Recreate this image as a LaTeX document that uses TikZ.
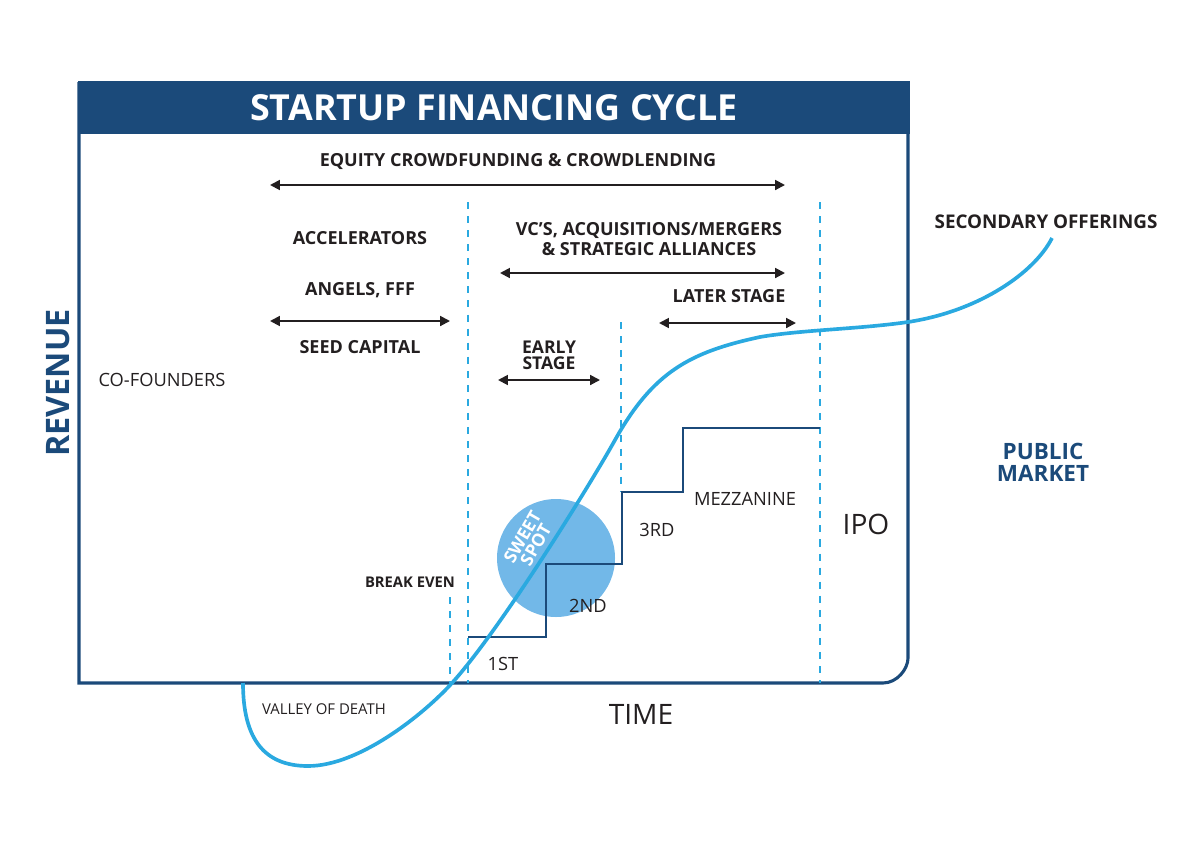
\documentclass[tikz,border=0pt]{standalone}
\usepackage{fontspec}
\setmainfont{Open Sans}
\usetikzlibrary{arrows.meta}
\definecolor{navy}{HTML}{1B4A7A}
\definecolor{skyline}{HTML}{2AA9E0}
\definecolor{spot}{HTML}{72B8E8}
\definecolor{ink}{HTML}{231F20}
\begin{document}
\begin{tikzpicture}[x=0.025cm, y=-0.025cm,
  every node/.style={text=ink, inner sep=0pt, align=center},
  heavy/.style={font=\fontsize{12.8}{14.2}\selectfont\bfseries},
  plain/.style={font=\fontsize{13}{15}\selectfont},
  span/.style={{Triangle[length=7pt,width=7pt]}-{Triangle[length=7pt,width=7pt]}, line width=1.4pt, draw=ink},
  guide/.style={draw=skyline, line width=1.4pt, dash pattern=on 5pt off 5pt}]
  \useasboundingbox (0,0) rectangle (1200,848);

  % frame and title
  \draw[navy, line width=2.2pt] (79,82) -- (79,683) -- (883,683)
    .. controls (897,683) and (908,669) .. (908,658) -- (908,82);
  \fill[navy] (77.5,81) rectangle (909.5,134);
  \node[text=white, font=\fontsize{25.5}{30}\selectfont\bfseries] (title) at (494,108) {STARTUP FINANCING CYCLE};

  % axes labels
  \node[text=navy, font=\fontsize{23}{26}\selectfont\bfseries, rotate=90] (revenue) at (58,383) {REVENUE};
  \node[font=\fontsize{20}{22}\selectfont] (time) at (641,714) {TIME};
  \node[text=navy, font=\fontsize{16}{15.6}\selectfont\bfseries] (public) at (1043,462) {PUBLIC\\MARKET};

  % guide lines
  \foreach \x/\ya/\yb in {468/202/683, 820/202/683, 621/322/492, 450/597/683}
    \draw[guide] (\x,\ya) -- (\x,\yb);

  % spans
  \foreach \xa/\xb/\y in {270/785/185, 270/450/321, 500/785/273, 659/796/323, 498/600/380}
    \draw[span] (\xa,\y) -- (\xb,\y);

  \node[heavy] (crowd) at (518,162) {EQUITY CROWDFUNDING \& CROWDLENDING};
  \node[heavy] (accel) at (360,238) {ACCELERATORS};
  \node[heavy] (angels) at (360,290) {ANGELS, FFF};
  \node[heavy] (seed) at (360,347) {SEED CAPITAL};
  \node[heavy] (vcs) at (649,239) {VC’S, ACQUISITIONS/MERGERS\\\& STRATEGIC ALLIANCES};
  \node[heavy] (later) at (729,296) {LATER STAGE};
  \node[heavy, font=\fontsize{12.5}{11.5}\selectfont\bfseries] (early) at (549,355) {EARLY\\STAGE};
  \node[plain] (cofound) at (162,380) {CO-FOUNDERS};
  \node[heavy, font=\fontsize{10.5}{12}\selectfont\bfseries] (breakeven) at (410,582) {BREAK EVEN};
  \node[heavy, font=\fontsize{13.4}{15}\selectfont\bfseries] (secondary) at (1046,222) {SECONDARY OFFERINGS};

  % sweet spot and rounds
  \fill[spot] (556,558) circle (59);
  \draw[navy, line width=1.4pt] (468,637) -- (546,637) -- (546,564) -- (622,564)
    -- (622,492) -- (683,492) -- (683,428) -- (820,428);
  \node[text=white, font=\fontsize{12.5}{11}\selectfont\bfseries, rotate=60] (sweet) at (529,541) {SWEET\\SPOT};
  \node[plain] (first) at (503,664) {1ST};
  \node[plain] (second) at (588,606) {2ND};
  \node[plain] (third) at (657,530) {3RD};
  \node[plain] (mezz) at (745,499) {MEZZANINE};
  \node[font=\fontsize{20}{22}\selectfont] (ipo) at (866,524) {IPO};
  \node[plain, font=\fontsize{10.6}{12}\selectfont] (valley) at (324,709) {VALLEY OF DEATH};

  % revenue curve
  \draw[skyline, line width=2.6pt] (243,683) .. controls (243,740) and (265,766) .. (308,766)
    .. controls (360,766) and (425,713) .. (452,683)
    .. controls (500,630) and (590,485) .. (615,440)
    .. controls (653,372) and (690,352) .. (760,337)
    .. controls (800,330) and (860,329) .. (908,322)
    .. controls (980,311) and (1035,272) .. (1052,238);
\end{tikzpicture}
\end{document}
